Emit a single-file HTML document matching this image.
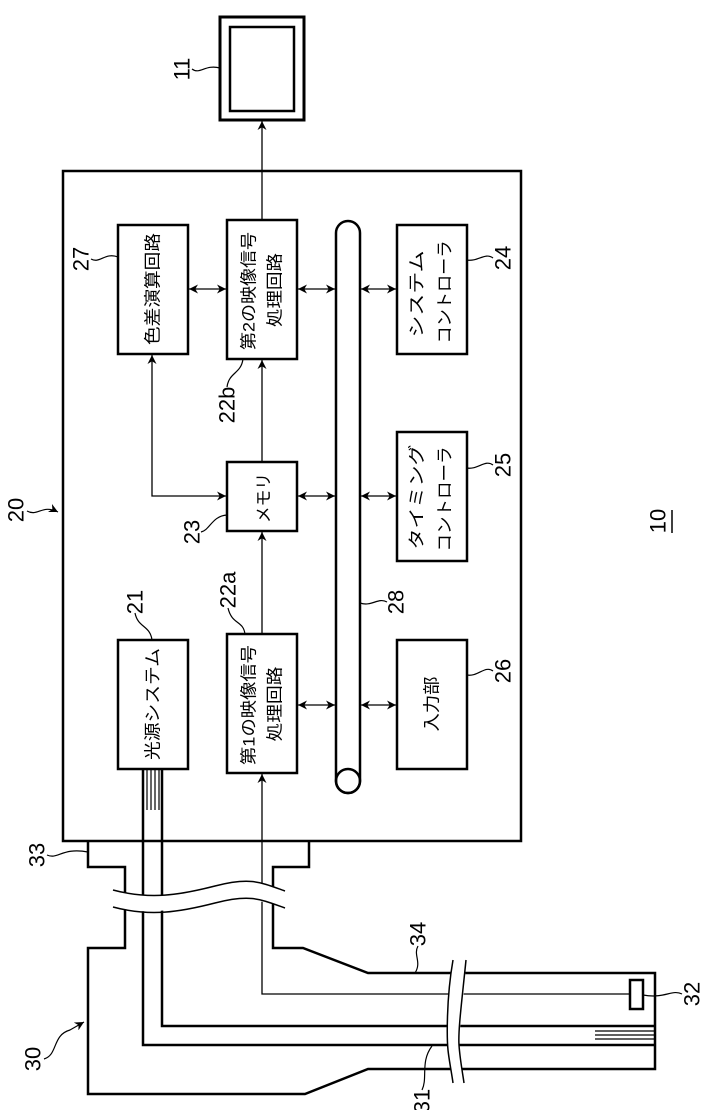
<!DOCTYPE html>
<html><head><meta charset="utf-8"><style>
html,body{margin:0;padding:0;background:#fff}
svg{display:block}
text{font-family:"Liberation Sans","Noto Sans CJK JP",sans-serif;fill:#000}
</style></head><body>
<svg width="706" height="1110" viewBox="0 0 706 1110" xmlns="http://www.w3.org/2000/svg">
<defs>
<marker id="ah" viewBox="0 0 10 10" refX="10" refY="5" markerWidth="9" markerHeight="9" markerUnits="userSpaceOnUse" orient="auto-start-reverse">
<path d="M0,0 L10,5 L0,10 L3,5 Z" fill="#000"/>
</marker>
</defs>
<g fill="none" stroke="#000">
<!-- monitor -->
<rect x="220" y="17" width="84" height="103" stroke-width="3"/>
<rect x="230" y="27" width="64" height="84" stroke-width="2.5"/>
<!-- main box -->
<rect x="63" y="171" width="458" height="670" stroke-width="2.5"/>
<!-- blocks -->
<g stroke-width="2.5">
<rect x="118" y="225" width="70" height="129"/>
<rect x="227" y="220" width="70" height="139"/>
<rect x="397" y="225" width="70" height="129"/>
<rect x="227" y="462" width="70" height="69"/>
<rect x="397" y="432" width="70" height="129"/>
<rect x="118" y="640" width="70" height="129"/>
<rect x="227" y="634" width="70" height="139"/>
<rect x="397" y="640" width="70" height="129"/>
<!-- bus -->
<path d="M336,233 A12,12 0 0 1 360,233 L360,781 A12,12 0 0 1 336,781 Z"/>
<circle cx="348" cy="781" r="12"/>
</g>
<!-- arrows -->
<g stroke-width="1.3">
<line x1="262" y1="220" x2="262" y2="121" marker-end="url(#ah)"/>
<line x1="189" y1="289" x2="226" y2="289" marker-start="url(#ah)" marker-end="url(#ah)"/>
<line x1="298" y1="289" x2="335" y2="289" marker-start="url(#ah)" marker-end="url(#ah)"/>
<line x1="361" y1="289" x2="396" y2="289" marker-start="url(#ah)" marker-end="url(#ah)"/>
<line x1="298" y1="496" x2="335" y2="496" marker-start="url(#ah)" marker-end="url(#ah)"/>
<line x1="361" y1="496" x2="396" y2="496" marker-start="url(#ah)" marker-end="url(#ah)"/>
<line x1="298" y1="705" x2="335" y2="705" marker-start="url(#ah)" marker-end="url(#ah)"/>
<line x1="361" y1="705" x2="396" y2="705" marker-start="url(#ah)" marker-end="url(#ah)"/>
<path d="M152,355 L152,496 L226,496" marker-start="url(#ah)" marker-end="url(#ah)"/>
<line x1="262" y1="462" x2="262" y2="360" marker-end="url(#ah)"/>
<line x1="262" y1="634" x2="262" y2="532" marker-end="url(#ah)"/>
<path d="M630,994 L262,994 L262,774" marker-end="url(#ah)"/>
</g>
<!-- light fibers -->
<g stroke-width="1.2">
<line x1="147" y1="769" x2="147" y2="810"/>
<line x1="151" y1="769" x2="151" y2="810"/>
<line x1="155" y1="769" x2="155" y2="810"/>
<line x1="159" y1="769" x2="159" y2="810"/>
<line x1="595" y1="1031" x2="655" y2="1031"/>
<line x1="595" y1="1035" x2="655" y2="1035"/>
<line x1="595" y1="1039" x2="655" y2="1039"/>
</g>
<g stroke-width="2.5">
<path d="M143,769 L143,1045 L655,1045"/>
<path d="M162,769 L162,1026 L655,1026"/>
<!-- connector / scope outline -->
<path d="M88,842 L88,867 L125,867 L125,948 L88,948 L88,1094 L305,1094 L368,1069 L655,1069 L655,973 L368,973 L303,948 L273,948 L273,867 L309,867 L309,842"/>
<rect x="630" y="980" width="13" height="29" fill="#fff"/>
</g>
</g>
<!-- breaks -->
<path d="M113,890 C150,900 180,895 215,886 S260,882 285,891 L285,908 C260,899 245,899 215,903 S150,917 113,907 Z" fill="#fff" stroke="none"/>
<path d="M113,890 C150,900 180,895 215,886 S260,882 285,891" fill="none" stroke="#000" stroke-width="1.5"/>
<path d="M113,907 C150,917 180,912 215,903 S260,899 285,908" fill="none" stroke="#000" stroke-width="1.5"/>
<path d="M453,960 C446,1000 447,1040 448,1050 S452,1075 453,1083 L466,1083 C462,1070 458,1055 459,1040 S465,990 466,960 Z" fill="#fff" stroke="none"/>
<path d="M453,960 C446,1000 447,1040 448,1050 S452,1075 453,1083" fill="none" stroke="#000" stroke-width="1.5"/>
<path d="M466,960 C462,1000 458,1030 459,1045 S463,1075 464,1083" fill="none" stroke="#000" stroke-width="1.5"/>
<!-- leaders -->
<g fill="none" stroke="#000" stroke-width="1.2">
<path d="M192,69 C200,75 205,64 220,68"/>
<path d="M91,259 C100,264 105,252 118,257"/>
<path d="M27,511 C38,517 42,504 58,512" marker-end="url(#ah)"/>
<path d="M201,532 C210,530 212,516 227,515"/>
<path d="M135,613 C138,628 150,625 152,640"/>
<path d="M228,608 C232,625 243,620 245,634"/>
<path d="M227,387 C229,372 241,374 243,359"/>
<path d="M493,258 C485,252 478,262 467,260"/>
<path d="M493,465 C485,459 478,470 467,468"/>
<path d="M493,671 C485,665 478,677 467,675"/>
<path d="M387,602 C378,597 372,607 360,603"/>
<path d="M47,855 C58,860 62,847 88,852"/>
<path d="M44,1059 C58,1055 52,1035 70,1030 L84,1022" marker-end="url(#ah)"/>
<path d="M418,946 C413,955 422,962 415,973"/>
<path d="M682,994 C672,989 665,999 643,995"/>
<path d="M422,1090 C428,1078 420,1062 432,1046"/>
</g>
<line x1="672" y1="510" x2="672" y2="533" stroke="#000" stroke-width="1.5"/>
<!-- block labels -->
<g font-size="17">
<text x="153" y="289" transform="rotate(-90 153 289)" text-anchor="middle" dominant-baseline="central" textLength="112" lengthAdjust="spacingAndGlyphs">色差演算回路</text>
<text x="249" y="291" transform="rotate(-90 249 291)" text-anchor="middle" dominant-baseline="central" textLength="118" lengthAdjust="spacingAndGlyphs">第2の映像信号</text>
<text x="275" y="290" transform="rotate(-90 275 290)" text-anchor="middle" dominant-baseline="central" textLength="74" lengthAdjust="spacingAndGlyphs">処理回路</text>
<text x="417" y="294" transform="rotate(-90 417 294)" text-anchor="middle" dominant-baseline="central" textLength="87" lengthAdjust="spacingAndGlyphs">システム</text>
<text x="445" y="292" transform="rotate(-90 445 292)" text-anchor="middle" dominant-baseline="central" textLength="103" lengthAdjust="spacingAndGlyphs">コントローラ</text>
<text x="264" y="498" transform="rotate(-90 264 498)" text-anchor="middle" dominant-baseline="central" textLength="50" lengthAdjust="spacingAndGlyphs">メモリ</text>
<text x="417" y="497" transform="rotate(-90 417 497)" text-anchor="middle" dominant-baseline="central" textLength="105" lengthAdjust="spacingAndGlyphs">タイミング</text>
<text x="445" y="499" transform="rotate(-90 445 499)" text-anchor="middle" dominant-baseline="central" textLength="105" lengthAdjust="spacingAndGlyphs">コントローラ</text>
<text x="153" y="704" transform="rotate(-90 153 704)" text-anchor="middle" dominant-baseline="central" textLength="112" lengthAdjust="spacingAndGlyphs">光源システム</text>
<text x="249" y="705" transform="rotate(-90 249 705)" text-anchor="middle" dominant-baseline="central" textLength="120" lengthAdjust="spacingAndGlyphs">第1の映像信号</text>
<text x="275" y="704" transform="rotate(-90 275 704)" text-anchor="middle" dominant-baseline="central" textLength="75" lengthAdjust="spacingAndGlyphs">処理回路</text>
<text x="432" y="704" transform="rotate(-90 432 704)" text-anchor="middle" dominant-baseline="central" textLength="55" lengthAdjust="spacingAndGlyphs">入力部</text>
</g>
<!-- number labels -->
<g font-size="22">
<text x="182" y="69" transform="rotate(-90 182 69)" text-anchor="middle" dominant-baseline="central">11</text>
<text x="81" y="259" transform="rotate(-90 81 259)" text-anchor="middle" dominant-baseline="central">27</text>
<text x="16" y="510" transform="rotate(-90 16 510)" text-anchor="middle" dominant-baseline="central">20</text>
<text x="192" y="532" transform="rotate(-90 192 532)" text-anchor="middle" dominant-baseline="central">23</text>
<text x="135" y="602" transform="rotate(-90 135 602)" text-anchor="middle" dominant-baseline="central">21</text>
<text x="228" y="590" transform="rotate(-90 228 590)" text-anchor="middle" dominant-baseline="central">22a</text>
<text x="227" y="405" transform="rotate(-90 227 405)" text-anchor="middle" dominant-baseline="central">22b</text>
<text x="503" y="258" transform="rotate(-90 503 258)" text-anchor="middle" dominant-baseline="central">24</text>
<text x="503" y="465" transform="rotate(-90 503 465)" text-anchor="middle" dominant-baseline="central">25</text>
<text x="503" y="671" transform="rotate(-90 503 671)" text-anchor="middle" dominant-baseline="central">26</text>
<text x="396" y="602" transform="rotate(-90 396 602)" text-anchor="middle" dominant-baseline="central">28</text>
<text x="658" y="521" transform="rotate(-90 658 521)" text-anchor="middle" dominant-baseline="central">10</text>
<text x="37" y="855" transform="rotate(-90 37 855)" text-anchor="middle" dominant-baseline="central">33</text>
<text x="33" y="1059" transform="rotate(-90 33 1059)" text-anchor="middle" dominant-baseline="central">30</text>
<text x="418" y="934" transform="rotate(-90 418 934)" text-anchor="middle" dominant-baseline="central">34</text>
<text x="692" y="994" transform="rotate(-90 692 994)" text-anchor="middle" dominant-baseline="central">32</text>
<text x="422" y="1101" transform="rotate(-90 422 1101)" text-anchor="middle" dominant-baseline="central">31</text>
</g>
</svg>
</body></html>
